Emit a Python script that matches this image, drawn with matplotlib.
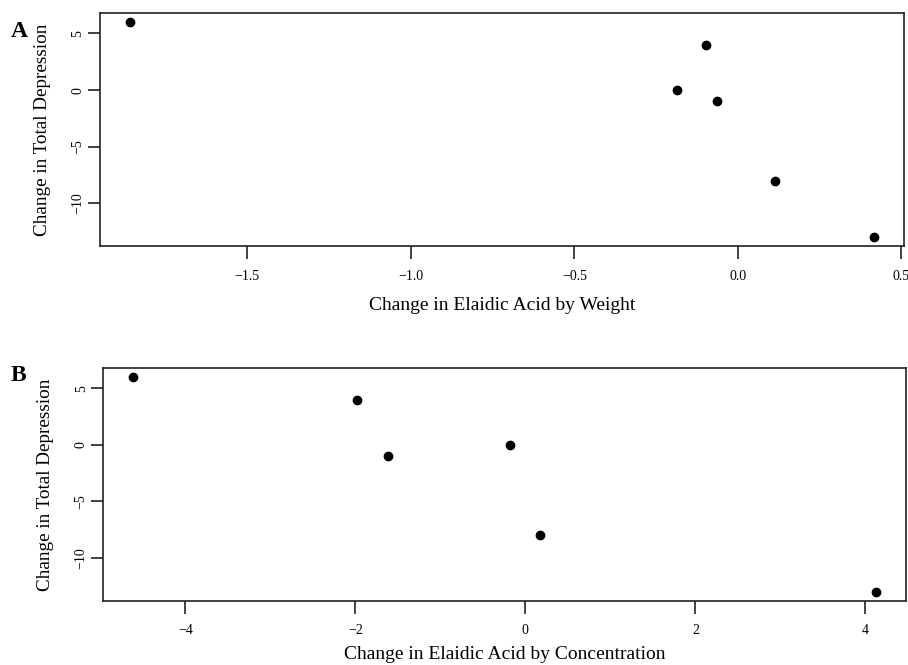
import matplotlib
matplotlib.use("Agg")
import matplotlib.pyplot as plt

# panel A: change in elaidic acid by weight
weight_change = [-1.86, -0.096, -0.185, -0.064, 0.113, 0.417]
depression_a = [6, 4, 0, -1, -8, -13]

# panel B: change in elaidic acid by concentration
conc_change = [-4.62, -1.98, -1.62, -0.18, 0.17, 4.13]
depression_b = [6, 4, -1, 0, -8, -13]

xticks_a = [-1.5, -1.0, -0.5, 0.0, 0.5]
xticks_b = [-4, -2, 0, 2, 4]
yticks = [5, 0, -5, -10]

plt.rcParams["font.family"] = ["Liberation Serif", "DejaVu Serif"]


def r_limits(values):
    # R's default 4% axis padding
    lo, hi = min(values), max(values)
    pad = 0.04 * (hi - lo)
    return lo - pad, hi + pad


def style_panel(ax, xvals, yvals, xticks, xlabel, xfmt, xlabelpad):
    ax.scatter(xvals, yvals, s=36, color="black", zorder=3, clip_on=False)
    ax.set_xlim(*r_limits(xvals))
    ax.set_ylim(*r_limits(yvals))
    ax.set_xticks(xticks)
    ax.set_xticklabels([xfmt.format(t).replace("-", "\u2212") for t in xticks])
    ax.set_yticks(yticks)
    ax.set_yticklabels([str(t).replace("-", "\u2212") for t in yticks],
                       rotation=90, va="center")
    for side in ax.spines.values():
        side.set_linewidth(1.2)
        side.set_color("#222222")
    ax.tick_params(axis="both", direction="out", length=9, width=1.2,
                   labelsize=10, color="#222222")
    ax.tick_params(axis="x", pad=8)
    ax.tick_params(axis="y", pad=2)
    ax.set_xlabel(xlabel, fontsize=14, labelpad=xlabelpad)
    ax.set_ylabel("Change in Total Depression", fontsize=13.8, labelpad=15)


fig = plt.figure(figsize=(9.08, 6.65), dpi=100)
ax_a = fig.add_axes([0.110, 0.630, 0.8856, 0.3497])
ax_b = fig.add_axes([0.1134, 0.0967, 0.8846, 0.3495])

style_panel(ax_a, weight_change, depression_a, xticks_a,
            "Change in Elaidic Acid by Weight", "{:.1f}", 10)
style_panel(ax_b, conc_change, depression_b, xticks_b,
            "Change in Elaidic Acid by Concentration", "{:d}", 6)

fig.text(0.012, 0.953, "A", fontsize=17, fontweight="bold", va="center")
fig.text(0.012, 0.436, "B", fontsize=17, fontweight="bold", va="center")

fig.savefig("out.png", dpi=100)
